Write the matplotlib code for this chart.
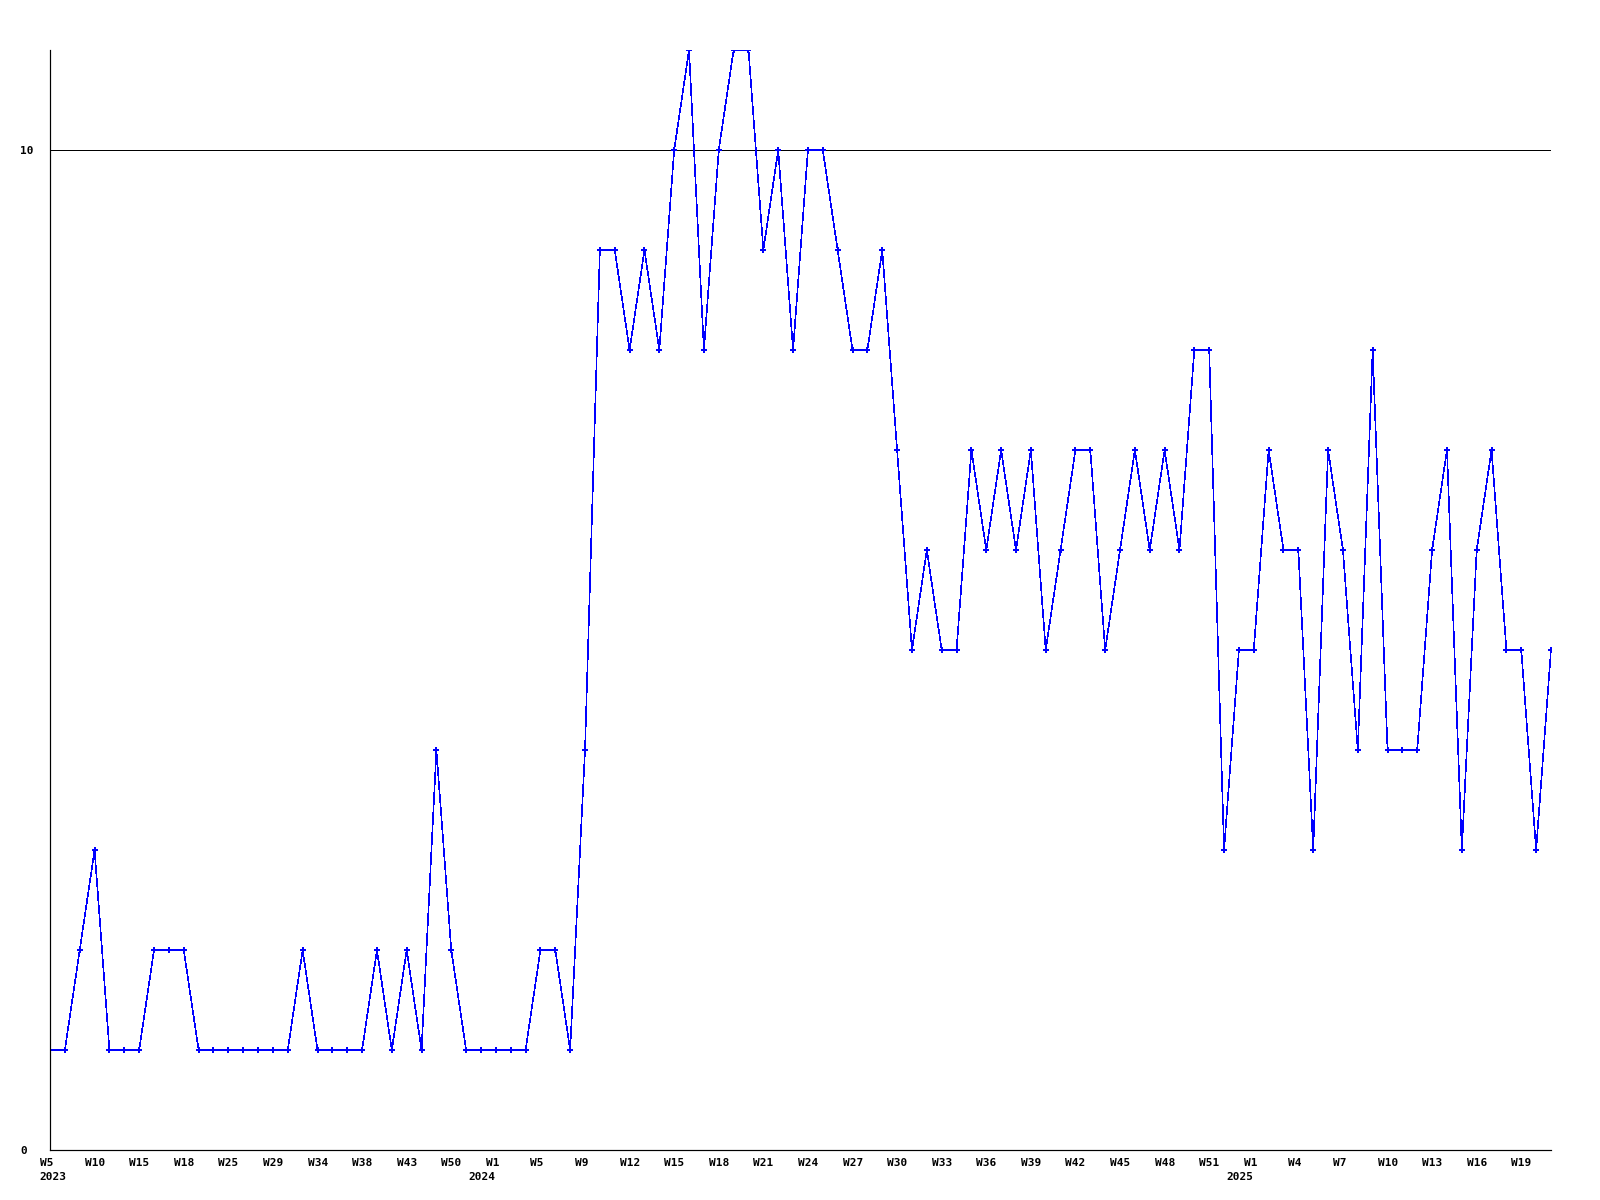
import numpy as np
import matplotlib
matplotlib.use("Agg")
import matplotlib.pyplot as plt
import matplotlib.transforms as mtransforms

# weekly counts, one point per week shown
values = [1, 1, 2, 3, 1, 1, 1, 2, 2, 2,
          1, 1, 1, 1, 1, 1, 1, 2, 1, 1,
          1, 1, 2, 1, 2, 1, 4, 2, 1, 1,
          1, 1, 1, 2, 2, 1, 4, 9, 9, 8,
          9, 8, 10, 11, 8, 10, 11, 11, 9, 10,
          8, 10, 10, 9, 8, 8, 9, 7, 5, 6,
          5, 5, 7, 6, 7, 6, 7, 5, 6, 7,
          7, 5, 6, 7, 6, 7, 6, 8, 8, 3,
          5, 5, 7, 6, 6, 3, 7, 6, 4, 8,
          4, 4, 4, 6, 7, 3, 6, 7, 5, 5,
          3, 5]

week_labels = ["W5", "W10", "W15", "W18", "W25", "W29", "W34", "W38", "W43", "W50",
               "W1", "W5", "W9", "W12", "W15", "W18", "W21", "W24", "W27", "W30",
               "W33", "W36", "W39", "W42", "W45", "W48", "W51",
               "W1", "W4", "W7", "W10", "W13", "W16", "W19"]
label_step = 3

years = ["2023", "2024", "2025"]
year_pos = [0, 30, 81]

FONT = dict(family="DejaVu Sans Mono", weight="bold", size=8)
DPI = 100
PX = 72 / DPI  # one pixel in points

fig = plt.figure(figsize=(16, 12), dpi=DPI)
ax = fig.add_axes([50 / 1600, 50 / 1200, 1501 / 1600, 1100 / 1200])

x = np.arange(len(values))
ax.plot(x, values, color="#0000ff", linewidth=0.6 * PX, antialiased=False)
ax.plot(x, values, linestyle="none", color="#0000ff", marker="P",
        markersize=5, markeredgewidth=0, antialiased=False)

ax.set_xlim(0, len(values) - 1)
ax.set_ylim(0, 11)

# only the 10 line is drawn
ax.axhline(10, color="black", linewidth=PX, antialiased=False, zorder=0)

for side in ["top", "right"]:
    ax.spines[side].set_visible(False)
for side in ["left", "bottom"]:
    ax.spines[side].set_linewidth(PX * 1.2)
    ax.spines[side].set_color("black")

ax.set_yticks([0, 10])
ax.set_yticklabels(["0", "10"], fontdict=FONT)
ax.tick_params(axis="y", length=0, pad=30 * PX)
for lab in ax.get_yticklabels():
    lab.set_horizontalalignment("left")

ticks = x[::label_step][:len(week_labels)]
ax.set_xticks(ticks)
ax.set_xticklabels(week_labels, fontdict=FONT)
ax.tick_params(axis="x", length=0, pad=6)
shift = mtransforms.ScaledTranslation(-10 / DPI, 0, fig.dpi_scale_trans)
for lab in ax.get_xticklabels():
    lab.set_horizontalalignment("left")
    lab.set_transform(lab.get_transform() + shift)

year_offsets_px = [-11, -27, -27]
for yr, pos, off in zip(years, year_pos, year_offsets_px):
    ax.annotate(yr, xy=(pos, 0), xycoords=("data", "axes fraction"),
                xytext=(off * PX, -27.5 * PX), textcoords="offset points",
                ha="left", va="center", annotation_clip=False, **FONT)

fig.savefig("out.png", dpi=DPI, facecolor="white")
